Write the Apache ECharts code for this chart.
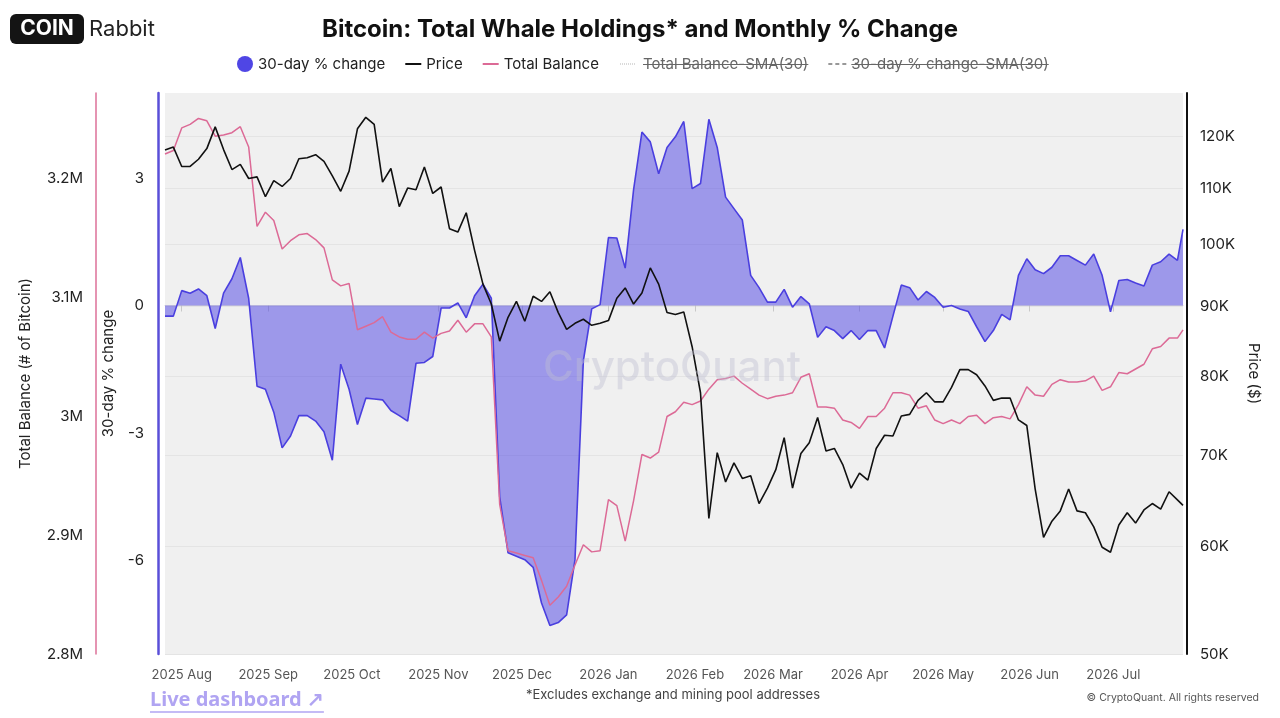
<!DOCTYPE html>
<html><head><meta charset="utf-8">
<script src="https://cdn.jsdelivr.net/npm/echarts@6/dist/echarts.min.js"></script>
<style>html,body{margin:0;padding:0;background:#fff}#chart{width:1280px;height:718px}</style>
</head><body><div id="chart"></div>
<script>
// ---- data (3-day samples) ----
const dates = [
'2025-07-26','2025-07-29','2025-08-01','2025-08-04','2025-08-07','2025-08-10','2025-08-13','2025-08-16','2025-08-19','2025-08-22',
'2025-08-25','2025-08-28','2025-08-31','2025-09-03','2025-09-06','2025-09-09','2025-09-12','2025-09-15','2025-09-18','2025-09-21',
'2025-09-24','2025-09-27','2025-09-30','2025-10-03','2025-10-06','2025-10-09','2025-10-12','2025-10-15','2025-10-18','2025-10-21',
'2025-10-24','2025-10-27','2025-10-30','2025-11-02','2025-11-05','2025-11-08','2025-11-11','2025-11-14','2025-11-17','2025-11-20',
'2025-11-23','2025-11-26','2025-11-29','2025-12-02','2025-12-05','2025-12-08','2025-12-11','2025-12-14','2025-12-17','2025-12-20',
'2025-12-23','2025-12-26','2025-12-29','2026-01-01','2026-01-04','2026-01-07','2026-01-10','2026-01-13','2026-01-16','2026-01-19',
'2026-01-22','2026-01-25','2026-01-28','2026-01-31','2026-02-03','2026-02-06','2026-02-09','2026-02-12','2026-02-15','2026-02-18',
'2026-02-21','2026-02-24','2026-02-27','2026-03-02','2026-03-05','2026-03-08','2026-03-11','2026-03-14','2026-03-17','2026-03-20',
'2026-03-23','2026-03-26','2026-03-29','2026-04-01','2026-04-04','2026-04-07','2026-04-10','2026-04-13','2026-04-16','2026-04-19',
'2026-04-22','2026-04-25','2026-04-28','2026-05-01','2026-05-04','2026-05-07','2026-05-10','2026-05-13','2026-05-16','2026-05-19',
'2026-05-22','2026-05-25','2026-05-28','2026-05-31','2026-06-03','2026-06-06','2026-06-09','2026-06-12','2026-06-15','2026-06-18',
'2026-06-21','2026-06-24','2026-06-27','2026-06-30','2026-07-03','2026-07-06','2026-07-09','2026-07-12','2026-07-15','2026-07-18',
'2026-07-21','2026-07-24','2026-07-26'
];
// 30-day % change
const changePct = [
-0.25,-0.25,0.35,0.29,0.39,0.23,-0.54,0.29,0.63,1.13,
0.17,-1.9,-1.97,-2.51,-3.35,-3.07,-2.59,-2.59,-2.72,-2.97,
-3.64,-1.38,-1.97,-2.80,-2.18,-2.20,-2.22,-2.47,-2.59,-2.72,
-1.36,-1.34,-1.2,-0.06,-0.06,0.06,-0.29,0.23,0.50,0.17,
-4.50,-5.82,-5.90,-5.98,-6.16,-7.0,-7.53,-7.46,-7.28,-5.98,
-1.30,-0.08,0.02,1.6,1.59,0.88,2.72,4.08,3.85,3.10,
3.72,3.97,4.33,2.75,2.87,4.38,3.72,2.55,2.28,2.01,
0.71,0.42,0.08,0.08,0.38,-0.04,0.21,0.04,-0.75,-0.50,
-0.59,-0.78,-0.59,-0.80,-0.59,-0.59,-1.0,-0.25,0.48,0.42,
0.13,0.33,0.19,-0.04,0.0,-0.08,-0.14,-0.50,-0.85,-0.59,
-0.21,-0.34,0.71,1.10,0.84,0.75,0.90,1.17,1.17,1.06,
0.95,1.21,0.71,-0.15,0.59,0.61,0.53,0.46,0.95,1.03,
1.21,1.06,1.79
];
// BTC price, thousands of USD
const priceK = [
117.3,117.9,114.1,114.1,115.5,117.6,122.0,117.4,113.5,114.5,
111.8,112.1,108.4,111.4,110.3,111.8,115.6,115.8,116.4,115.1,
112.3,109.4,113.2,121.6,124.0,122.5,111.1,113.7,106.6,110.0,
109.7,114.0,109.0,110.2,102.7,102.1,105.5,99.0,93.5,90.4,
84.9,88.4,90.8,87.8,91.6,90.8,92.3,89.1,86.6,87.5,
88.1,87.2,87.5,87.9,91.3,92.9,90.4,92.1,96.1,93.5,
89.1,88.8,89.2,84.1,77.8,62.9,70.3,66.9,69.1,67.3,
67.6,64.5,66.2,68.3,72.1,66.2,70.2,71.5,74.6,70.5,
70.8,68.9,66.2,67.9,67.1,70.8,72.4,72.3,74.8,75.0,
76.8,77.8,76.6,76.6,78.5,80.9,80.9,80.2,78.7,76.8,
77.1,77.1,74.3,73.6,66.1,60.9,62.6,63.7,66.1,63.7,
63.5,62.0,59.9,59.4,62.2,63.5,62.4,63.8,64.5,63.9,
65.8,64.9,64.3
];
// Total whale balance, millions of BTC
const balanceM = [
3.221,3.224,3.243,3.246,3.251,3.249,3.236,3.237,3.239,3.244,
3.227,3.160,3.172,3.165,3.141,3.148,3.153,3.154,3.149,3.142,
3.115,3.110,3.112,3.073,3.076,3.079,3.084,3.071,3.067,3.065,
3.065,3.071,3.066,3.070,3.072,3.081,3.071,3.078,3.078,3.067,
2.926,2.887,2.885,2.883,2.881,2.862,2.841,2.848,2.857,2.875,
2.892,2.886,2.887,2.930,2.925,2.895,2.929,2.968,2.965,2.970,
3.000,3.004,3.012,3.010,3.013,3.023,3.031,3.032,3.034,3.028,
3.023,3.018,3.015,3.017,3.018,3.020,3.033,3.036,3.008,3.008,
3.007,2.997,2.995,2.990,3.000,3.000,3.007,3.020,3.020,3.018,
3.007,3.009,2.997,2.994,2.997,2.994,3.000,3.001,2.994,2.999,
3.000,2.998,3.010,3.025,3.018,3.017,3.027,3.031,3.029,3.029,
3.030,3.034,3.022,3.025,3.037,3.036,3.040,3.044,3.057,3.059,
3.066,3.066,3.073
];
// tick labels
const monthTicks = ['2025-08-01','2025-09-01','2025-10-01','2025-11-01','2025-12-01','2026-01-01','2026-02-01','2026-03-01','2026-04-01','2026-05-01','2026-06-01','2026-07-01'];
const balanceTicks = [2.8, 2.9, 3.0, 3.1, 3.2];
const changeTicks = [-6, -3, 0, 3];
const priceTicks = [50, 60, 70, 80, 90, 100, 110, 120];
const MONTHS = ['Jan','Feb','Mar','Apr','May','Jun','Jul','Aug','Sep','Oct','Nov','Dec'];

// ---- build ----
const FONT = 'Inter, "Noto Sans", sans-serif';
function toTs(s){ const p = s.split('-').map(Number); return new Date(p[0], p[1]-1, p[2]).getTime(); }
const monthTs = monthTicks.map(toTs);
const pair = vals => dates.map((d, i) => [toTs(d), vals[i]]);

const mctx = document.createElement('canvas').getContext('2d');
function textW(t, font){ mctx.font = font; return mctx.measureText(t).width; }

const legFont = '15px Inter';
const sma1 = 'Total Balance-SMA(30)';
const sma2 = '30-day % change-SMA(30)';
const ix1 = 620, tx1 = 643, w1 = textW(sma1, legFont);
const ix2 = tx1 + w1 + 20, tx2 = ix2 + 23, w2 = textW(sma2, legFont);
const liveText = 'Live dashboard \u2197';
const liveFont = 'bold 20px "Noto Sans"';
const liveW = textW(liveText, liveFont);
const LINE_ICON = 'path://M0,0 L16,0 L16,2 L0,2 Z';

const chart = echarts.init(document.getElementById('chart'));
chart.setOption({
  animation: false,
  backgroundColor: '#ffffff',
  title: {
    text: 'Bitcoin: Total Whale Holdings* and Monthly % Change',
    left: 'center', top: 13,
    textStyle: { fontSize: 24, fontWeight: 'bold', color: '#111', fontFamily: FONT }
  },
  legend: {
    left: 237, top: 56, padding: 0, itemWidth: 16, itemHeight: 16, itemGap: 20,
    symbolKeepAspect: true,
    textStyle: { fontSize: 15, color: '#222', fontFamily: FONT },
    data: [
      { name: '30-day % change', icon: 'circle' },
      { name: 'Price', icon: LINE_ICON },
      { name: 'Total Balance', icon: LINE_ICON }
    ]
  },
  grid: {
    left: 165, right: 97, top: 93, bottom: 64,
    show: true, backgroundColor: '#f0f0f0', borderWidth: 0,
    containLabel: false, outerBoundsMode: 'none'
  },
  xAxis: {
    type: 'value',
    min: toTs('2025-07-26'), max: toTs('2026-07-26'),
    axisLine: { show: true, lineStyle: { color: '#dcdcdc', width: 1 } },
    axisTick: { show: true, customValues: monthTs, length: 6, lineStyle: { color: '#c8c8c8' } },
    axisLabel: {
      customValues: monthTs, color: '#555', fontSize: 13, margin: 15, fontFamily: FONT,
      hideOverlap: false,
      formatter: v => { const d = new Date(v); return d.getFullYear() + ' ' + MONTHS[d.getMonth()]; }
    },
    splitLine: { show: false }
  },
  yAxis: [
    {
      type: 'value', position: 'left', offset: 69,
      min: 2.8, max: 3.2724,
      name: 'Total Balance (# of Bitcoin)', nameLocation: 'middle', nameGap: 63, nameRotate: 90,
      nameTextStyle: { fontSize: 15, color: '#222', fontFamily: FONT },
      axisLine: { show: true, lineStyle: { color: '#dd7199', width: 1.5 } },
      axisTick: { show: false, customValues: balanceTicks },
      axisLabel: { customValues: balanceTicks, color: '#222', fontSize: 15, margin: 13, fontFamily: FONT,
        formatter: v => (+v.toFixed(1)) + 'M' },
      splitLine: { show: false }
    },
    {
      type: 'value', position: 'left', offset: 7,
      min: -8.2, max: 5.0,
      name: '30-day % change', nameLocation: 'middle', nameGap: 42, nameRotate: 90,
      nameTextStyle: { fontSize: 15, color: '#222', fontFamily: FONT },
      axisLine: { show: true, lineStyle: { color: '#5a4fd8', width: 2.5 } },
      axisTick: { show: false, customValues: changeTicks },
      axisLabel: { customValues: changeTicks, color: '#222', fontSize: 15, margin: 14, fontFamily: FONT },
      splitLine: { show: false }
    },
    {
      type: 'log', logBase: 10, position: 'right', offset: 4,
      min: 50, max: 129.2,
      name: 'Price ($)', nameLocation: 'middle', nameGap: 58, nameRotate: -90,
      nameTextStyle: { fontSize: 15, color: '#222', fontFamily: FONT },
      axisLine: { show: true, lineStyle: { color: '#111', width: 2 } },
      axisTick: { show: false, customValues: priceTicks },
      axisLabel: { customValues: priceTicks, color: '#222', fontSize: 15, margin: 13, fontFamily: FONT,
        formatter: v => Math.round(v) + 'K' },
      splitLine: { show: true, lineStyle: { color: '#e4e4e4', width: 1 } }
    }
  ],
  series: [
    {
      name: '30-day % change', type: 'line', yAxisIndex: 1, data: pair(changePct),
      symbol: 'none', z: 2,
      itemStyle: { color: '#4f46e5' },
      lineStyle: { color: '#4a3fdf', width: 1.6 },
      areaStyle: { color: 'rgba(80,70,229,0.52)', opacity: 1, origin: 'auto' }
    },
    {
      name: 'Total Balance', type: 'line', yAxisIndex: 0, data: pair(balanceM),
      symbol: 'none', z: 3,
      itemStyle: { color: '#dc6a96' },
      lineStyle: { color: '#dc6a96', width: 1.5 }
    },
    {
      name: 'Price', type: 'line', yAxisIndex: 2, data: pair(priceK),
      symbol: 'none', z: 4,
      itemStyle: { color: '#111' },
      lineStyle: { color: '#111', width: 1.6 }
    }
  ],
  graphic: [
    { type: 'rect', shape: { x: 10, y: 14, width: 74, height: 30, r: 6 }, style: { fill: '#141414' } },
    { type: 'text', x: 47, y: 29, style: { text: 'COIN', fill: '#fff', font: 'bold 21px Inter', textAlign: 'center', textVerticalAlign: 'middle', align: 'center', verticalAlign: 'middle' } },
    { type: 'text', x: 89, y: 29, style: { text: 'Rabbit', fill: '#222', font: '22px Inter', textVerticalAlign: 'middle', verticalAlign: 'middle' } },
    { type: 'line', shape: { x1: ix1, y1: 64, x2: ix1 + 16, y2: 64 }, style: { stroke: '#b5b5b5', lineWidth: 1, lineDash: [1, 1] } },
    { type: 'text', x: tx1, y: 64, style: { text: sma1, fill: '#666', font: legFont, textVerticalAlign: 'middle', verticalAlign: 'middle' } },
    { type: 'line', shape: { x1: tx1, y1: 64.5, x2: tx1 + w1, y2: 64.5 }, style: { stroke: '#666', lineWidth: 1.2 } },
    { type: 'line', shape: { x1: ix2, y1: 64, x2: ix2 + 18, y2: 64 }, style: { stroke: '#777', lineWidth: 1.3, lineDash: [4, 3] } },
    { type: 'text', x: tx2, y: 64, style: { text: sma2, fill: '#666', font: legFont, textVerticalAlign: 'middle', verticalAlign: 'middle' } },
    { type: 'line', shape: { x1: tx2, y1: 64.5, x2: tx2 + w2, y2: 64.5 }, style: { stroke: '#666', lineWidth: 1.2 } },
    { type: 'text', x: 672, y: 368, z: 50, style: { text: 'CryptoQuant', fill: 'rgba(190,190,210,0.42)', font: '500 42px Inter', textAlign: 'center', textVerticalAlign: 'middle', align: 'center', verticalAlign: 'middle' } },
    { type: 'text', x: 150, y: 700, style: { text: liveText, fill: '#b0a4f2', font: liveFont, textVerticalAlign: 'middle', verticalAlign: 'middle' } },
    { type: 'line', shape: { x1: 150, y1: 712, x2: 150 + liveW, y2: 712 }, style: { stroke: '#b0a4f2', lineWidth: 1.5 } },
    { type: 'text', x: 673, y: 695, style: { text: '*Excludes exchange and mining pool addresses', fill: '#444', font: '13px Inter', textAlign: 'center', textVerticalAlign: 'middle', align: 'center', verticalAlign: 'middle' } },
    { type: 'text', x: 1259, y: 698, style: { text: '\u00a9 CryptoQuant. All rights reserved', fill: '#555', font: '10.5px Inter', textAlign: 'right', textVerticalAlign: 'middle', align: 'right', verticalAlign: 'middle' } }
  ]
});
</script>
</body></html>
